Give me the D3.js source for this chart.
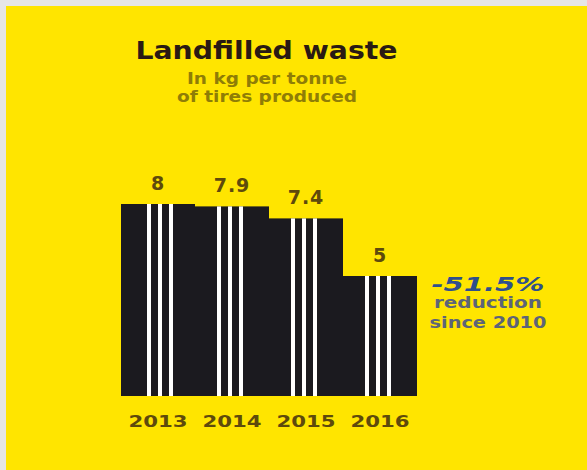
<!DOCTYPE html>
<html>
<head>
<meta charset="utf-8">
<script src="https://cdn.jsdelivr.net/npm/d3@7"></script>
<style>
  html, body { margin: 0; padding: 0; background: #e6e6e6; }
  svg { display: block; }
  text { font-family: "DejaVu Sans", "Liberation Sans", Arial, sans-serif; }
</style>
</head>
<body>
<script>
// Landfilled waste per tonne of tires produced
const years = ["2013", "2014", "2015", "2016"];
const values = [8, 7.9, 7.4, 5];
const valueLabels = ["8", "7.9", "7.4", "5"];
const titleText = "Landfilled waste";
const subtitleLines = ["In kg per tonne", "of tires produced"];
const noteLines = ["-51.5%", "reduction", "since 2010"];

const W = 587, H = 470;
const svg = d3.select("body").append("svg").attr("width", W).attr("height", H);

// page background with thin grey frame on top/left
svg.append("rect").attr("x", 6).attr("y", 6).attr("width", W - 6).attr("height", H - 6)
  .attr("fill", "#ffe500");

const x = d3.scaleBand().domain(years).range([121, 417]).padding(0);
const y = d3.scaleLinear().domain([0, 8]).range([396, 204]);

// title block
svg.append("text").attr("x", 266.5).attr("y", 59).attr("text-anchor", "middle")
  .attr("font-size", 25).attr("font-weight", "bold").attr("fill", "#2a1a14")
  .attr("textLength", 262).attr("lengthAdjust", "spacingAndGlyphs")
  .text(titleText);

const subW = [160, 180];
svg.selectAll("text.sub").data(subtitleLines).join("text").attr("class", "sub")
  .attr("x", 267).attr("y", (d, i) => 84 + i * 18).attr("text-anchor", "middle")
  .attr("font-size", 16).attr("font-weight", "bold").attr("fill", "#8f7d06")
  .attr("textLength", (d, i) => subW[i]).attr("lengthAdjust", "spacingAndGlyphs")
  .text(d => d);

// bars
const bars = svg.append("g");
bars.selectAll("rect").data(values).join("rect")
  .attr("x", (d, i) => x(years[i]))
  .attr("y", d => y(d))
  .attr("width", x.bandwidth())
  .attr("height", d => y(0) - y(d))
  .attr("fill", "#1b1a1f");

// white vertical stripes inside each bar
const stripes = [];
values.forEach((v, i) => {
  const off = i === 0 ? 26 : 22;
  for (let k = 0; k < 3; k++) stripes.push({ i, v, dx: off + k * 11 });
});
bars.selectAll("rect.stripe").data(stripes).join("rect").attr("class", "stripe")
  .attr("x", d => x(years[d.i]) + d.dx)
  .attr("y", d => y(d.v))
  .attr("width", 4)
  .attr("height", d => y(0) - y(d.v))
  .attr("fill", "#ffffff");

// value labels
svg.selectAll("text.val").data(values).join("text").attr("class", "val")
  .attr("x", (d, i) => x(years[i]) + x.bandwidth() / 2)
  .attr("y", d => y(d) - 14)
  .attr("text-anchor", "middle")
  .attr("font-size", 19).attr("font-weight", "bold").attr("fill", "#5e4a0c")
  .attr("letter-spacing", 1)
  .text((d, i) => valueLabels[i]);

// year axis labels
const xAxis = d3.axisBottom(x).tickSize(0).tickPadding(0);
const ax = svg.append("g").attr("transform", "translate(0,415)").call(xAxis);
ax.select(".domain").remove();
ax.selectAll("text")
  .attr("dy", "0.75em")
  .attr("font-size", 16).attr("font-weight", "bold").attr("fill", "#5e4a0c")
  .attr("font-family", "DejaVu Sans, Liberation Sans, Arial, sans-serif")
  .attr("textLength", 59).attr("lengthAdjust", "spacingAndGlyphs");

// reduction note
const noteY = [291, 308, 328];
const noteSize = [19, 15, 15];
const noteW = [113, 108, 117];
svg.selectAll("text.note").data(noteLines).join("text").attr("class", "note")
  .attr("x", 488).attr("y", (d, i) => noteY[i]).attr("text-anchor", "middle")
  .attr("font-size", (d, i) => noteSize[i]).attr("font-weight", "bold")
  .attr("font-style", (d, i) => i === 0 ? "italic" : "normal")
  .attr("fill", (d, i) => i === 0 ? "#2f4f8c" : "#5d6478")
  .attr("textLength", (d, i) => noteW[i]).attr("lengthAdjust", "spacingAndGlyphs")
  .text(d => d);
</script>
</body>
</html>
